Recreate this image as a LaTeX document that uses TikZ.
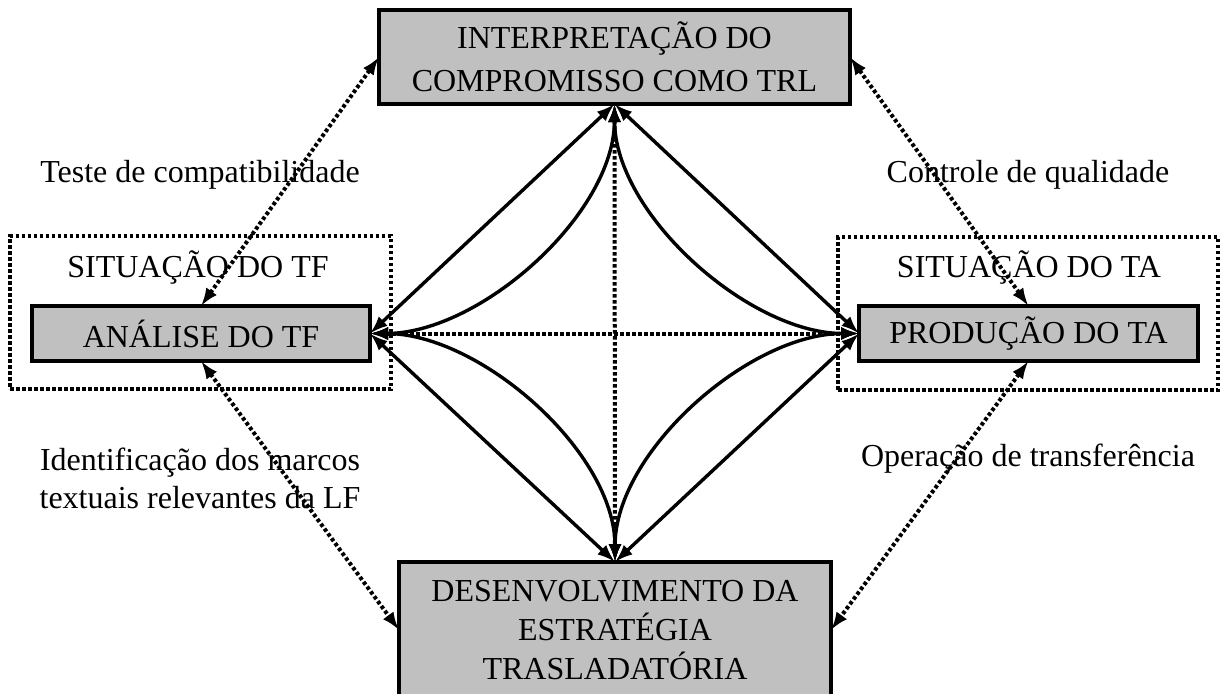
\documentclass[tikz,border=0pt]{standalone}
\usepackage{fontspec}
\setmainfont{Liberation Serif}
\usetikzlibrary{arrows.meta,calc}
\definecolor{boxgray}{HTML}{C0C0C0}
\begin{document}
\begin{tikzpicture}[x=1pt,y=-1pt,
  every node/.style={font=\fontsize{32}{40}\selectfont, inner sep=0pt, outer sep=0pt},
  graybox/.style={draw, line width=3.2pt, fill=boxgray, align=center},
  dotbox/.style={draw, line width=4pt, dash pattern=on 3.5pt off 2.5pt},
  conn/.style={line width=3.4pt, {Latex[length=18pt,width=13pt]}-{Latex[length=18pt,width=13pt]}},
  dotconn/.style={line width=4pt, dash pattern=on 3.5pt off 2.5pt, {Latex[length=18pt,width=13pt]}-{Latex[length=18pt,width=13pt]}},
  lbl/.style={anchor=base}]
\useasboundingbox (0,0) rectangle (1220,693);
\clip (0,0) rectangle (1220,693);
\fill[white] (0,0) rectangle (1220,693);

% dotted frames
\node[dotbox, minimum width=381pt, minimum height=153pt] (sitTF) at (200.5,312.5) {};
\node[dotbox, minimum width=380pt, minimum height=153pt] (sitTA) at (1028,313.5) {};
\node[lbl] (sitTFlbl) at (198,277) {SITUAÇÃO DO TF};
\node[lbl] (sitTAlbl) at (1029,277) {SITUAÇÃO DO TA};

% main boxes
\node[graybox, minimum width=471pt, minimum height=94pt, font=\fontsize{32}{43}\selectfont] (interp) at (614.5,57)
  {INTERPRETAÇÃO DO\\COMPROMISSO COMO TRL};
\node[graybox, minimum width=338pt, minimum height=55pt] (anal) at (201,333.5) {ANÁLISE DO TF};
\node[graybox, minimum width=339pt, minimum height=55pt] (prod) at (1028.5,333.5) {PRODUÇÃO DO TA};
\node[graybox, minimum width=432pt, minimum height=136pt, font=\fontsize{32}{39}\selectfont] (desenv) at (615,630)
  {DESENVOLVIMENTO DA\\ESTRATÉGIA\\TRASLADATÓRIA};

% labels
\node[lbl] (l1) at (200,182) {Teste de compatibilidade};
\node[lbl] (l2) at (1028,182) {Controle de qualidade};
\node[lbl] (l3) at (200,470) {Identificação dos marcos};
\node[lbl] (l4) at (200,508) {textuais relevantes da LF};
\node[lbl] (l5) at (1028,466) {Operação de transferência};

% anchor points
\coordinate (L) at (anal.east);
\coordinate (T) at (interp.south);
\coordinate (R) at (prod.west);
\coordinate (B) at (desenv.north);

% diamond: straight
\draw[conn] (L) -- (T);
\draw[conn] (T) -- (R);
\draw[conn] (R) -- (B);
\draw[conn] (B) -- (L);
% diamond: concave curves
\draw[conn] (L) .. controls ($(L)+(110,0)$) and ($(T)+(0,110)$) .. (T);
\draw[conn] (T) .. controls ($(T)+(0,110)$) and ($(R)+(-110,0)$) .. (R);
\draw[conn] (R) .. controls ($(R)+(-110,0)$) and ($(B)+(0,-110)$) .. (B);
\draw[conn] (B) .. controls ($(B)+(0,-110)$) and ($(L)+(110,0)$) .. (L);
% diamond: dotted axes
\draw[dotconn] (L) -- (R);
\draw[dotconn] (T) -- (B);

% outer dotted connectors
\draw[dotconn] (anal.north) -- (interp.west);
\draw[dotconn] (prod.north) -- (interp.east);
\draw[dotconn] (anal.south) -- (desenv.west);
\draw[dotconn] (prod.south) -- (desenv.east);
\end{tikzpicture}
\end{document}
